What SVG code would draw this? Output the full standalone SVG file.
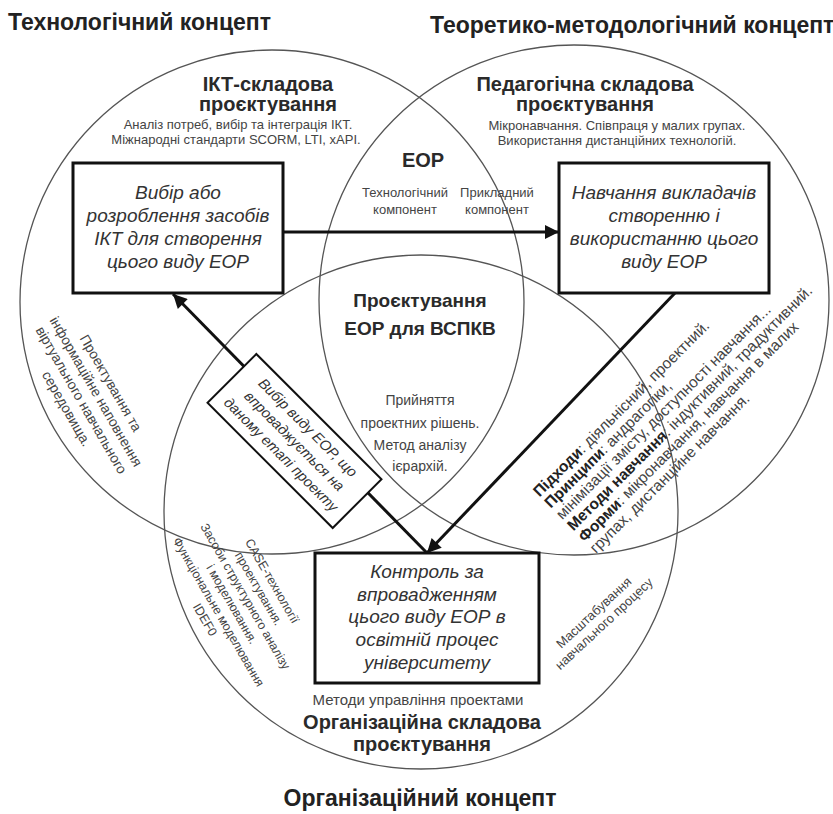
<svg xmlns="http://www.w3.org/2000/svg" width="833" height="814" viewBox="0 0 833 814">
<defs>
<style>
text{font-family:"Liberation Sans",Arial,sans-serif;}
.ttl{font-size:23px;font-weight:bold;fill:#222;}
.hd{font-size:20px;font-weight:bold;fill:#2a2a2a;text-anchor:middle;}
.sm{font-size:13px;fill:#444;text-anchor:middle;}
.md{font-size:14px;fill:#444;text-anchor:middle;}
.bx{font-size:19px;font-style:italic;fill:#333;text-anchor:middle;}
.circ{fill:none;stroke:#555;stroke-width:1.3;}
.box{fill:#fff;stroke:#111;stroke-width:3;}
.arr{stroke:#111;stroke-width:3;fill:none;marker-end:url(#ah);}
.rt{font-size:15.5px;fill:#444;}
.b{font-weight:bold;fill:#222;}
</style>
<marker id="ah" viewBox="0 0 10 10" refX="10" refY="5" markerWidth="18" markerHeight="14" markerUnits="userSpaceOnUse" orient="auto">
<path d="M0,0 L10,5 L0,10 z" fill="#111"/>
</marker>
</defs>
<rect width="833" height="814" fill="#fff"/>

<g id="titles">
<text class="ttl" x="8" y="30">Технологічний концепт</text>
<text class="ttl" x="430" y="33">Теоретико-методологічний концепт</text>
<text class="ttl" x="420" y="806" text-anchor="middle">Організаційний концепт</text>
</g>

<g id="circles">
<circle class="circ" cx="272" cy="302" r="252"/>
<circle class="circ" cx="574" cy="300" r="255"/>
<circle class="circ" cx="421" cy="512" r="257"/>
</g>

<g id="circle-labels">
<text class="hd" x="268" y="91">ІКТ-складова</text>
<text class="hd" x="268" y="111">проєктування</text>
<text class="sm" x="238" y="129">Аналіз потреб, вибір та інтеграція ІКТ.</text>
<text class="sm" x="236" y="144">Міжнародні стандарти SCORM, LTI, xAPI.</text>

<text class="hd" x="585" y="91">Педагогічна складова</text>
<text class="hd" x="585" y="111">проєктування</text>
<text class="sm" x="617" y="130">Мікронавчання. Співпраця у малих групах.</text>
<text class="sm" x="617" y="145">Використання дистанційних технологій.</text>

<text class="hd" x="423" y="167">ЕОР</text>
<text class="sm" x="405" y="197">Технологічний</text>
<text class="sm" x="405" y="214">компонент</text>
<text class="sm" x="497" y="197">Прикладний</text>
<text class="sm" x="497" y="214">компонент</text>

<text class="hd" x="420" y="307" style="font-size:19px">Проєктування</text>
<text class="hd" x="420" y="335" style="font-size:19px">ЕОР для ВСПКВ</text>
<text class="md" x="420" y="405">Прийняття</text>
<text class="md" x="420" y="428">проектних рішень.</text>
<text class="md" x="420" y="450">Метод аналізу</text>
<text class="md" x="420" y="471">ієрархій.</text>

<text class="md" x="418" y="705" style="font-size:15px">Методи управління проектами</text>
<text class="hd" x="422" y="729">Організаційна складова</text>
<text class="hd" x="422" y="751">проєктування</text>

<g transform="translate(111,383) rotate(60)">
<text class="md" x="0" y="5">Проектування та</text>
<text class="md" x="0" y="22">інформаційне наповнення</text>
<text class="md" x="0" y="39">віртуального навчального</text>
<text class="md" x="0" y="56">середовища.</text>
</g>

<g transform="translate(272,581) rotate(60)">
<text class="md" style="font-size:12.5px" x="0" y="4">CASE-технології</text>
<text class="md" style="font-size:12.5px" x="0" y="19.5">проектування.</text>
<text class="md" style="font-size:12.5px" x="0" y="35">Засоби структурного аналізу</text>
<text class="md" style="font-size:12.5px" x="0" y="50.5">і моделювання.</text>
<text class="md" style="font-size:12.5px" x="0" y="66">Функціональне моделювання</text>
<text class="md" style="font-size:12.5px" x="0" y="81.5">IDEF0</text>
</g>

<g transform="translate(594,613) rotate(-43)">
<text class="sm" x="0" y="4">Масштабування</text>
<text class="sm" x="0" y="19">навчального процесу</text>
</g>

<g transform="translate(536,494) rotate(-45)">
<text class="rt" x="0" y="5"><tspan class="b">Підходи</tspan>: діяльнісний, проектний.</text>
<text class="rt" x="0" y="21"><tspan class="b">Принципи</tspan>: андрагогіки,</text>
<text class="rt" x="0" y="37">мінімізації змісту, доступності навчання...</text>
<text class="rt" x="0" y="53"><tspan class="b">Методи навчання</tspan>: індуктивний, традуктивний.</text>
<text class="rt" x="0" y="69"><tspan class="b">Форми</tspan>: мікронавчання, навчання в малих</text>
<text class="rt" x="0" y="85">групах, дистанційне навчання.</text>
</g>
</g>

<g id="connectors">
<line class="arr" x1="283" y1="232" x2="559" y2="232"/>
<line class="arr" x1="675" y1="293" x2="427" y2="553"/>
<line class="arr" x1="427" y1="553" x2="173" y2="294"/>
</g>

<g id="node-ict">
<rect class="box" x="73" y="163" width="210" height="130"/>
<text class="bx" x="178" y="199">Вибір або</text>
<text class="bx" x="178" y="222">розроблення засобів</text>
<text class="bx" x="178" y="245">ІКТ для створення</text>
<text class="bx" x="178" y="268">цього виду ЕОР</text>
</g>

<g id="node-training">
<rect class="box" x="559" y="163" width="210" height="130"/>
<text class="bx" x="664" y="199">Навчання викладачів</text>
<text class="bx" x="664" y="222">створенню і</text>
<text class="bx" x="664" y="245">використанню цього</text>
<text class="bx" x="664" y="268">виду ЕОР</text>
</g>

<g id="node-control">
<rect class="box" x="315" y="553" width="224" height="130"/>
<text class="bx" x="427" y="578">Контроль за</text>
<text class="bx" x="427" y="601">впровадженням</text>
<text class="bx" x="427" y="623">цього виду ЕОР в</text>
<text class="bx" x="427" y="646">освітній процес</text>
<text class="bx" x="427" y="669">університету</text>
</g>

<g id="node-choice" transform="translate(294.5,441) rotate(45)">
<rect x="-88.5" y="-34.5" width="177" height="69" fill="#fff" stroke="#111" stroke-width="2"/>
<text class="bx" style="font-size:14.5px" x="0" y="-14">Вибір виду ЕОР, що</text>
<text class="bx" style="font-size:14.5px" x="0" y="5">впроваджується на</text>
<text class="bx" style="font-size:14.5px" x="0" y="24">даному етапі проекту</text>
</g>
</svg>
